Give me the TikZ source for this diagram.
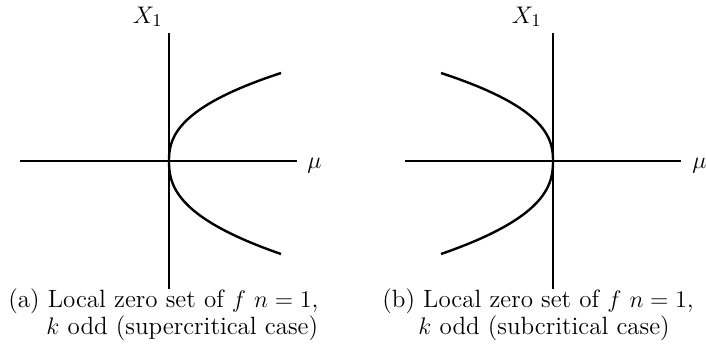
\documentclass[tikz,border=0pt]{standalone}
\begin{document}
\begin{tikzpicture}[x=0.5pt,y=-0.5pt,
  axis/.style={line width=1pt},
  branch/.style={line width=1.2pt},
  lbl/.style={inner sep=0pt,font=\fontsize{12.5}{15}\selectfont},
  captext/.style={inner sep=0pt,anchor=base west,font=\fontsize{12.5}{15}\selectfont}]
\useasboundingbox (0,0) rectangle (706,360);
% left panel
\coordinate (aL) at (20,161);
\coordinate (aR) at (297,161);
\coordinate (aT) at (169,33);
\coordinate (aB) at (169,289);
\draw[axis] (aL) -- (aR);
\draw[axis] (aT) -- (aB);
\draw[branch] plot[domain=-88:93,samples=60,smooth]
  ({169+112*pow(abs(\x)/(\x<0?88:93),2.4)},{161+\x});
\node[lbl,anchor=south east] (ax) at (163,27) {$X_1$};
\node[lbl,anchor=base west] (amu) at (307,168) {$\mu$};
\node[captext] (ac1) at (8,307) {(a) Local zero set of $f$ $n=1$,};
\node[captext] (ac2) at (46,334) {$k$ odd (supercritical case)};
% right panel
\coordinate (bL) at (405,161);
\coordinate (bR) at (681,161);
\coordinate (bT) at (553,33);
\coordinate (bB) at (553,289);
\draw[axis] (bL) -- (bR);
\draw[axis] (bT) -- (bB);
\draw[branch] plot[domain=-88:93,samples=60,smooth]
  ({553-112*pow(abs(\x)/(\x<0?88:93),2.4)},{161+\x});
\node[lbl,anchor=south east] (bx) at (542,27) {$X_1$};
\node[lbl,anchor=base west] (bmu) at (692,168) {$\mu$};
\node[captext] (bc1) at (382,307) {(b) Local zero set of $f$ $n=1$,};
\node[captext] (bc2) at (418,334) {$k$ odd (subcritical case)};
\end{tikzpicture}
\end{document}
